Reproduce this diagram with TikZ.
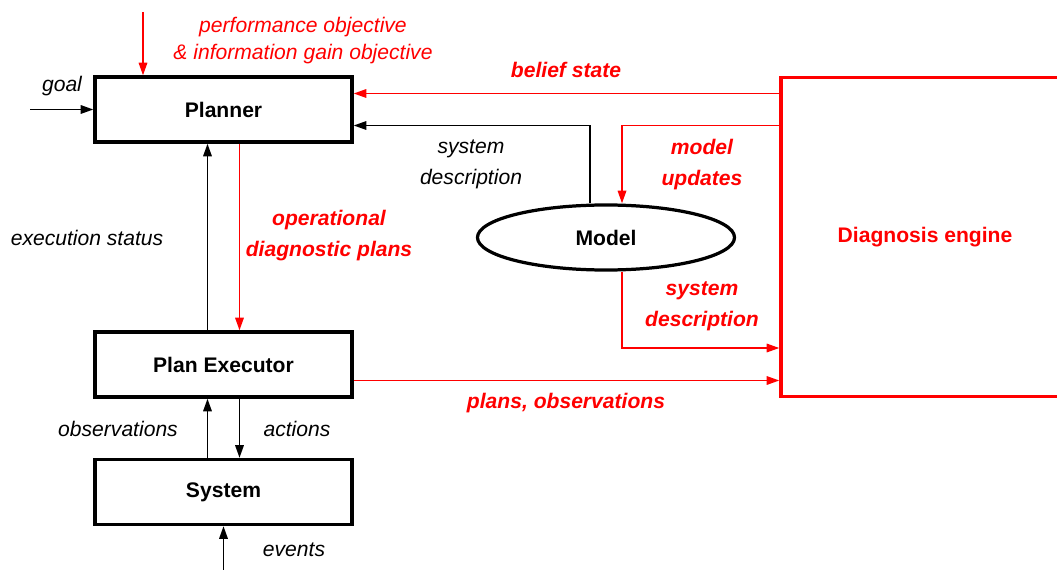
\documentclass[tikz,border=0pt]{standalone}
\usepackage{fontspec}
\setmainfont{Liberation Sans}
\usepackage{tikz}
\usetikzlibrary{
  shapes.geometric,
  arrows.meta,
  positioning,
  calc
}

\tikzset{
  block/.style={draw, line width=2.3pt, minimum width=6.425cm, minimum height=1.625cm,
    inner sep=0pt, font=\fontsize{15}{22}\selectfont\bfseries},
  lbl/.style={font=\fontsize{15}{22}\selectfont\itshape, align=center},
  redlbl/.style={font=\fontsize{15}{22}\selectfont\bfseries\itshape, text=red, align=center},
  arr/.style={-{Triangle[length=9pt,width=6pt]}, line width=1.3pt},
}

\begin{document}
\begin{tikzpicture}[x=0.025cm, y=-0.025cm]
  \useasboundingbox (0,0) rectangle (1057,570);

  % blocks
  \node[block] (planner) at (223.5,109.5) {Planner};
  \node[block] (executor) at (223.5,364.5) {Plan Executor};
  \node[block] (system) at (223.5,492) {System};
  \node[block, ellipse] (model) at (606,237.5) {Model};
  \node[block, draw=red, minimum width=7.2cm, minimum height=7.975cm,
    text=red] (diag) at (925,236.7) {Diagnosis engine};

  % free ends
  \coordinate (goalin) at (30,109.5);
  \coordinate (perfin) at (143,12);
  \coordinate (evin) at (223.5,570);
  \coordinate (bs) at ([yshift=0.4cm]planner.east);
  \coordinate (sd) at ([yshift=-0.4cm]planner.east);
  \coordinate (po) at ([yshift=-0.4cm]executor.east);

  % inputs
  \draw[arr] (goalin) -- (planner.west);
  \draw[arr, red] (perfin) -- (perfin |- planner.north);
  \draw[arr] (evin) -- (system.south);

  % planner <-> executor
  \draw[arr] ([xshift=-0.4cm]executor.north) -- ([xshift=-0.4cm]planner.south);
  \draw[arr, red] ([xshift=0.4cm]planner.south) -- ([xshift=0.4cm]executor.north);

  % executor <-> system
  \draw[arr] ([xshift=-0.4cm]system.north) -- ([xshift=-0.4cm]executor.south);
  \draw[arr] ([xshift=0.4cm]executor.south) -- ([xshift=0.4cm]system.north);

  % diagnosis engine links
  \draw[arr, red] (diag.west |- bs) -- (bs);
  \draw[arr] ([xshift=-0.4cm]model.north) |- (sd);
  \draw[arr, red] (diag.west |- sd) -| ([xshift=0.4cm]model.north);
  \draw[arr, red] ([xshift=0.4cm]model.south) |- (diag.west |- 0,348);
  \draw[arr, red] (po) -- (diag.west |- po);

  % labels
  \node[lbl] (goal) at (62,86) {goal};
  \node[lbl, text=red, font=\fontsize{15}{19}\selectfont\itshape] (perf) at (303,40.5)
    {performance objective\\\& information gain objective};
  \node[redlbl] (belief) at (566,70) {belief state};
  \node[lbl] (sysdesc) at (471,164) {system\\description};
  \node[redlbl] (updates) at (702,165) {model\\updates};
  \node[redlbl] (opplans) at (329,235.5) {operational\\diagnostic plans};
  \node[lbl] (status) at (87,238) {execution status};
  \node[redlbl] (sysdescred) at (702,306.5) {system\\description};
  \node[redlbl] (plansobs) at (566,403) {plans, observations};
  \node[lbl] (obs) at (118,429) {observations};
  \node[lbl] (acts) at (297,429) {actions};
  \node[lbl] (events) at (294,550) {events};
\end{tikzpicture}
\end{document}
